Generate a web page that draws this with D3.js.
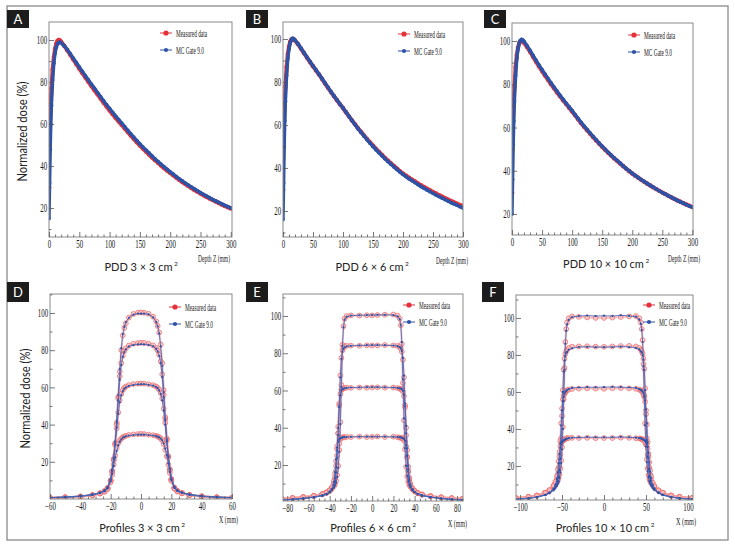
<!DOCTYPE html>
<html><head><meta charset="utf-8">
<script src="https://cdn.jsdelivr.net/npm/d3@7"></script>
<style>body{margin:0;background:#fff}svg{display:block}</style>
</head><body>
<script>
// ---------------- DATA ----------------
const depth = [0,1,2,3,4,6,8,10,12,14,16,18,20,25,30,35,40,45,50,55,60,65,70,75,80,85,90,95,100,105,110,115,120,125,130,135,140,145,150,155,160,165,170,175,180,185,190,195,200,205,210,215,220,225,230,235,240,245,250,255,260,265,270,275,280,285,290,295,300];

const pddA_meas = [44,54,63,71,77,86,92,95.8,98.3,99.6,100,99.8,
99.2,97.3,95.2,93.0,90.8,88.6,86.4,84.3,82.2,80.1,78.1,76.1,74.2,72.2,70.2,68.3,66.5,
64.7,62.9,61.2,59.6,57.9,56.2,54.5,52.9,51.3,49.8,48.3,46.9,45.5,44.1,42.8,41.5,40.2,39.0,37.8,36.7,
35.6,34.5,33.4,32.4,31.4,30.5,29.5,28.6,27.8,26.9,26.1,25.3,24.5,23.8,23.1,22.4,21.7,21.0,20.4,19.8];
const pddA_mc = [15,32,48,60,69,81,89,93.8,96.6,98.1,98.8,99.0,
98.7,97.3,95.5,93.5,91.4,89.3,87.2,85.1,83.0,81.0,79.0,77.0,75.0,73.1,71.1,69.2,67.4,
65.6,63.8,62.1,60.4,58.7,57.0,55.3,53.7,52.1,50.5,49.0,47.6,46.2,44.8,43.4,42.1,40.8,39.6,38.4,37.2,
36.1,35.0,33.9,32.9,31.9,30.9,30.0,29.1,28.2,27.3,26.5,25.7,24.9,24.1,23.4,22.7,22.0,21.3,20.7,20.0];
const pddB_meas = [45,55,64,72,78,87,93,96.5,98.7,99.8,100,99.7,
99.3,97.6,95.5,93.4,91.3,89.3,87.3,85.4,83.5,81.4,79.3,77.3,75.3,73.4,71.5,69.6,67.9,
65.9,64.0,62.1,60.3,58.5,56.8,55.1,53.5,51.9,50.4,48.9,47.5,46.1,44.7,43.4,42.1,40.9,39.7,38.5,37.4,
36.4,35.5,34.6,33.7,32.8,32.0,31.2,30.4,29.6,28.8,28.1,27.4,26.7,26.0,25.3,24.7,24.0,23.4,22.8,22.2];
const pddB_mc = [16,33,50,62,71,83,91,95.5,98.2,99.6,100.3,100.1,
99.5,97.8,95.7,93.6,91.5,89.5,87.5,85.6,83.6,81.6,79.5,77.5,75.5,73.5,71.6,69.7,67.9,
66.0,64.0,62.1,60.2,58.3,56.6,54.9,53.2,51.6,50.0,48.5,47.1,45.7,44.3,43.0,41.7,40.5,39.3,38.1,37.0,
36.0,35.0,34.1,33.2,32.3,31.4,30.6,29.8,29.0,28.2,27.4,26.7,26.0,25.3,24.6,23.9,23.3,22.7,22.0,21.4];
const pddC_meas = [48,57,66,73,79,88,93.5,97,99,99.9,100,99.7,
99.2,97.2,95.0,92.7,90.4,88.2,86.1,84.0,82.0,80.0,78.1,76.2,74.4,72.6,70.8,69.1,67.4,
65.6,63.8,62.0,60.3,58.7,57.1,55.5,54.0,52.5,51.1,49.7,48.3,47.0,45.7,44.5,43.3,42.1,40.9,39.8,38.7,
37.7,36.8,35.8,34.9,34.0,33.2,32.3,31.5,30.7,29.9,29.2,28.4,27.7,27.0,26.3,25.7,25.0,24.4,23.8,23.2];
const pddC_mc = [20,36,52,63,72,84,92,96.5,99,100.3,100.7,100.4,
99.8,97.8,95.6,93.3,91.0,88.8,86.7,84.6,82.6,80.6,78.6,76.7,74.8,73.0,71.2,69.5,67.8,
65.9,64.1,62.3,60.6,59.0,57.4,55.8,54.3,52.8,51.3,49.9,48.5,47.2,45.9,44.7,43.5,42.2,41.0,39.9,38.8,
37.8,36.8,35.9,35.0,34.1,33.2,32.4,31.5,30.7,29.9,29.2,28.4,27.7,27.0,26.3,25.6,25.0,24.3,23.7,23.1];

const profD_x = [-60,-50,-40,-32,-27,-24,-22,-20,-19,-18,-17,-16,-15,-14,-13,-12,-11,-10,-8,-5,-2,0,2,5,8,10,11,12,13,14,15,16,17,18,19,20,22,24,27,32,40,50,60];
const D_mc100 = [0.8,1.1,1.6,2.4,3.4,4.6,6.4,10.8,15.8,22.3,31,42,56,70,81,88.5,92.5,95,97.4,99.1,99.7,99.6,99.7,99.2,97.6,95.2,92.8,89,82,71.5,57.5,43,32,23,16.5,11.3,6.6,4.7,3.5,2.5,1.6,1.1,0.8];
const D_meas100 = [0.6,0.9,1.3,2.1,3.1,4.2,6.0,10,15,21.5,30,41,55,68.5,80,88,92,94.5,97.5,99.5,100.2,100.3,100.1,99.6,98,95.5,93,89.5,83,73,58.5,44,32.5,23,16,10.8,6.1,4.3,3.2,2.2,1.4,0.9,0.6];
const D_mc83 = [0.7,1.0,1.5,2.3,3.3,4.5,6.2,10.3,15.3,21.8,30.5,41,53,64,72,76.5,79,80.5,82,82.8,83.1,83.2,83.1,82.8,82.1,80.8,79.4,77,73,65.5,54.5,42.5,31.5,22.5,16,10.8,6.4,4.6,3.4,2.4,1.5,1.0,0.7];
const D_meas83 = [0.6,0.9,1.3,2.1,3.1,4.2,5.9,10,15,21,29.5,40,54,66,73,77,79.5,81,82.5,83.5,83.8,84,83.9,83.5,82.6,81.2,79.8,77.5,74,67,56,43,32,22.5,15.6,10.4,6.0,4.3,3.2,2.2,1.4,0.9,0.6];
const D_mc61 = [0.7,1.0,1.5,2.3,3.3,4.3,6.0,10.2,14.8,21.2,29.3,38.3,46,52,55.8,58,59.3,60,60.8,61.3,61.6,61.7,61.7,61.4,60.9,60.2,59.6,58.4,56.5,53,47.5,40,31,22.5,15.8,10.6,6.2,4.4,3.3,2.3,1.5,1.0,0.7];
const D_meas61 = [0.6,0.9,1.3,2.1,3.0,4.1,5.7,9.8,14.5,21,29,38,46.5,53,56.5,58.5,59.8,60.5,61.2,61.8,62,62.1,62,61.7,61.2,60.5,59.8,58.8,57,54,48.5,41,31.5,22.5,15.5,10.2,5.9,4.2,3.1,2.2,1.4,0.9,0.6];
const D_mc35 = [0.6,0.9,1.4,2.2,3.1,4.1,5.6,9.4,13.3,17.8,22.3,25.8,28.8,30.8,32.1,33,33.4,33.7,34.1,34.4,34.6,34.6,34.6,34.4,34.1,33.8,33.5,33.1,32.5,31.5,29.8,27,23.5,19,14.5,10.2,5.9,4.2,3.2,2.2,1.4,0.9,0.6];
const D_meas35 = [0.5,0.8,1.2,2.0,2.9,3.9,5.3,9.0,13,18.5,23.5,27.5,30,31.5,32.5,33.2,33.6,34,34.4,34.7,34.9,35,34.9,34.6,34.3,34,33.6,33.2,32.6,31.5,29.5,26.5,23,18.5,14,9.8,5.6,4.0,3.0,2.1,1.3,0.8,0.5];

const profE_x = [-85,-75,-65,-55,-47,-43,-40,-38,-36,-35,-34,-33,-32,-31,-30,-29,-28,-27,-26,-24,-20,-12,-5,0,5,12,20,24,26,27,28,29,30,31,32,33,34,35,36,38,40,43,47,55,65,75,85];
const E_mc100 = [1.2,1.5,2.0,2.6,3.5,4.2,5.3,6.4,7.8,9,10.5,13.5,18.5,27,42,62,84,94,98,99.6,100.2,100.4,100.5,100.5,100.6,100.6,100.5,99.8,98.3,95,86,66,45,29,19.5,14,11,9.2,8,6.5,5.4,4.3,3.6,2.7,2.0,1.5,1.2];
const E_meas100 = [1.8,2.2,2.7,3.3,4.2,5.0,6.0,7.2,8.6,9.8,11.5,14.5,19.5,28,43,63,84.5,94.5,98.5,100,100.3,100.2,100.4,100.3,100.5,100.7,100.8,100.2,98.5,95,85,64,44,28.5,19,13.8,11,9.4,8.3,6.9,5.9,4.8,4.1,3.2,2.6,2.1,1.7];
const E_mc84 = [1.2,1.5,2.0,2.7,3.6,4.4,5.4,6.8,9,11.5,16,24,36,52,67,77,81,82.5,83.2,83.7,84,84.2,84.3,84.3,84.4,84.3,84.1,83.8,83.3,82.6,81.2,77.5,68,53,37,24.5,16.5,11.8,9.2,6.9,5.5,4.4,3.6,2.7,2.0,1.5,1.2];
const E_meas84 = [1.8,2.2,2.7,3.4,4.3,5.2,6.2,7.6,9.8,12.5,17,25,37,53,68,77.5,81.5,83,83.7,84,84.1,84,84.2,84.1,84.2,84.4,84.2,83.9,83.4,82.5,80.8,76.5,67,52,36,24,16.2,11.6,9.1,7.1,5.9,4.9,4.1,3.2,2.6,2.1,1.7];
const E_mc61 = [1.2,1.5,2.0,2.7,3.6,4.4,5.6,7,9.5,13,19,28,40,51,57.5,60,60.7,61,61.2,61.4,61.6,61.7,61.8,61.8,61.8,61.7,61.6,61.4,61.2,61,60.6,59.8,57.6,51.5,41,29,19.5,13.2,9.6,7.0,5.6,4.4,3.6,2.7,2.0,1.5,1.2];
const E_meas61 = [1.8,2.2,2.7,3.4,4.3,5.2,6.4,7.8,10.2,13.5,19.5,28.5,40.5,52,58,60.2,60.8,61.1,61.3,61.5,61.4,61.6,61.5,61.6,61.7,61.5,61.6,61.3,61,60.8,60.3,59.5,57,51,40,28,19,13.2,10,7.5,6.1,4.9,4.1,3.2,2.6,2.1,1.7];
const E_mc35 = [1.3,1.6,2.1,2.8,3.7,4.5,5.7,7.2,11,16,23,29.5,32.5,33.8,34.3,34.6,34.8,34.9,35,35,35.1,35.2,35.2,35.2,35.2,35.2,35.1,35,34.9,34.8,34.6,34.3,33.9,33,30.5,25,17.5,12,8.6,6.6,5.5,4.5,3.7,2.8,2.1,1.6,1.3];
const E_meas35 = [1.9,2.3,2.8,3.5,4.4,5.3,6.5,8,11.5,15.5,22,30,37,31.5,34,34.5,34.7,35,34.8,35.1,35,35.2,35,35.1,35.3,35,35.2,34.9,34.7,34.6,34.4,34,33.5,32.5,30,24.5,17,12,9,7.2,6.1,5.0,4.2,3.3,2.7,2.2,1.8];

const profF_x = [-105,-90,-80,-70,-65,-60,-58,-56,-55,-54,-53,-52,-51,-50,-49,-48,-47,-46,-45,-44,-42,-38,-30,-20,-10,0,10,20,30,38,42,44,45,46,47,48,49,50,51,52,53,54,55,56,58,60,65,70,80,90,105];
const F_mc100 = [2.0,2.5,3.1,4.2,5.2,6.8,7.8,9.2,10.2,11.5,13.5,16.5,21.5,29,40,55,72,86,93,96.5,99,100.5,101,101.3,101,101.2,101,101.4,101.1,100.7,99.2,96.8,93.5,87,74,57,42,30.5,22,17,13.8,11.8,10.4,9.4,7.9,6.9,5.3,4.2,3.1,2.5,2.0];
const F_meas100 = [2.6,3.2,3.9,5.3,6.5,8.5,9.5,11,12,13.5,15.5,18.5,23,30,41,56,73,87,94,97.5,99.8,100.8,100.6,100.3,100,100,100.2,100.5,100.8,101,99.8,97.5,94,88,75,58,43,31.5,23.5,18.5,15,13,11.8,10.8,9.5,8.5,6.5,5.3,3.9,3.2,2.6];
const F_mc84 = [2.0,2.5,3.1,4.3,5.4,7.2,8.5,10.5,12,14.3,18,24,33,46,60,71,77,79.5,81,81.7,82.8,83.6,84.3,84.4,84.2,84.2,84.3,84.5,84.3,83.8,83,82,81.3,80,77.5,72,61,47,34,25,18.5,14.6,12.2,10.6,8.6,7.3,5.5,4.3,3.2,2.5,2.0];
const F_meas84 = [2.6,3.2,3.9,5.4,6.7,8.8,10.2,12.3,14,16.2,20,26,35,47,61,72,78,80.5,82,82.8,83.8,84.5,84.6,84.7,84.5,84.4,84.6,84.8,84.9,84.6,83.8,82.7,82,80.6,78,72.5,62,48,35,26,19.5,15.6,13.2,11.6,9.6,8.4,6.6,5.4,3.9,3.2,2.6];
const F_mc62 = [2.0,2.5,3.2,4.4,5.5,7.5,9,11.5,13.8,17.5,23.5,32,42,50,55,57.5,59,60,60.6,61,61.5,62.2,62.4,62.6,62.5,62.6,62.7,62.6,62.4,62.2,61.5,61.1,60.7,60.1,59.2,57.7,55.3,50.5,43,33,24.5,18,14,11.8,9.2,7.6,5.6,4.4,3.2,2.5,2.0];
const F_meas62 = [2.6,3.3,4.0,5.5,6.8,9.0,10.6,13,15.5,19,25,33.5,43,51,56,58,59,59.8,60.5,60.9,61.3,61.6,61.8,62,61.8,61.7,62,62.1,61.9,61.7,61.3,60.8,60.4,59.8,58.8,57.2,54.8,50,42.5,33,25,19,15.3,13,10.3,8.7,6.7,5.5,4.0,3.3,2.7];
const F_mc35 = [2.0,2.5,3.2,4.4,5.6,7.8,9.6,13,16.5,21.5,26.5,30,31.8,32.7,33.3,33.8,34.1,34.4,34.6,34.8,35,35.3,35.4,35.6,35.5,35.5,35.5,35.7,35.5,35.3,35.1,34.9,34.7,34.5,34.2,33.9,33.4,32.8,31.9,30.3,27,22,17,13.5,9.8,7.9,5.7,4.5,3.3,2.5,2.0];
const F_meas35 = [2.7,3.3,4.1,5.6,7.0,9.5,11.5,14.5,18,22.5,27.5,30.5,32.2,33,33.6,34,34.3,34.6,34.8,35,35.1,35.2,35.1,35.2,35,35.1,35.1,35.3,35.2,35,34.9,34.7,34.5,34.3,34,33.6,33,32.3,31.2,29.5,26.5,22,17.5,14.5,11,9.2,6.9,5.6,4.1,3.3,2.7];

const pddXTicks = [0,50,100,150,200,250,300];
const doseYTicks = [20,40,60,80,100];
const profDXTicks = [-60,-40,-20,0,20,40,60];
const profEXTicks = [-80,-60,-40,-20,0,20,40,60,80];
const profFXTicks = [-100,-50,0,50,100];
const pddTitles = ["PDD 3 \u00d7 3 cm","PDD 6 \u00d7 6 cm","PDD 10 \u00d7 10 cm"];
const profTitles = ["Profiles 3 \u00d7 3 cm","Profiles 6 \u00d7 6 cm","Profiles 10 \u00d7 10 cm"];
const unitSup = "2";
const panelLetters = ["A","B","C","D","E","F"];
const legendLabels = ["Measured data","MC Gate 9.0"];
const yAxisTitle = "Normalized dose (%)";
const pddXTitle = "Depth Z (mm)";
const profXTitle = "X (mm)";

// ---------------- DRAWING ----------------
const RED = "#e5323a", BLUE = "#2d52a6";
const svg = d3.select("body").append("svg").attr("width",735).attr("height",550);
svg.append("rect").attr("width",735).attr("height",550).attr("fill","#fff");
svg.append("rect").attr("x",7).attr("y",6).attr("width",721).attr("height",534)
  .attr("fill","none").attr("stroke","#8a8a8a").attr("stroke-width",1.3);

const panels = [
 {L:0,type:"pdd",x0:49,x1:232,y0:22,y1:237,xd:[0,302],yd:[6.2,108.6],xs:depth,meas:[pddA_meas],mc:[pddA_mc],xt:pddXTicks,xm:10,lab:[7,10,18],leg:[160,33],title:pddTitles[0],tx:141,ty:271,ax:[198,262,32]},
 {L:1,type:"pdd",x0:283,x1:463,y0:22,y1:237,xd:[0,300],yd:[7.9,107.9],xs:depth,meas:[pddB_meas],mc:[pddB_mc],xt:pddXTicks,xm:10,lab:[246,10,18],leg:[398,34],title:pddTitles[1],tx:372,ty:271,ax:[436,264,32]},
 {L:2,type:"pdd",x0:512,x1:693,y0:23,y1:235,xd:[0,301],yd:[10.3,108.3],xs:depth,meas:[pddC_meas],mc:[pddC_mc],xt:pddXTicks,xm:10,lab:[484,10,18],leg:[628,35],title:pddTitles[2],tx:606,ty:268,ax:[668,262,32]},
 {L:3,type:"prof",x0:50,x1:232,y0:294,y1:499,xd:[-60,60],yd:[0,110.2],xs:profD_x,meas:[D_meas100,D_meas83,D_meas61,D_meas35],mc:[D_mc100,D_mc83,D_mc61,D_mc35],xt:profDXTicks,xm:5,lab:[7,282,20],leg:[169,307],title:profTitles[0],tx:142,ty:532,ax:[219,523,19]},
 {L:4,type:"prof",x0:283,x1:463,y0:294,y1:501,xd:[-84,85.6],yd:[0.67,111.8],xs:profE_x,meas:[E_meas100,E_meas84,E_meas61,E_meas35],mc:[E_mc100,E_mc84,E_mc61,E_mc35],xt:profEXTicks,xm:5,lab:[246,282,20],leg:[403,305],title:profTitles[1],tx:373,ty:532,ax:[448,527,19]},
 {L:5,type:"prof",x0:516,x1:693,y0:295,y1:500,xd:[-104.8,106],yd:[1.6,112.4],xs:profF_x,meas:[F_meas100,F_meas84,F_meas62,F_meas35],mc:[F_mc100,F_mc84,F_mc62,F_mc35],xt:profFXTicks,xm:10,lab:[482,282,20],leg:[643,305],title:profTitles[2],tx:605,ty:532,ax:[676,525,20]}
];

const SERIF = "'Liberation Serif','DejaVu Serif',serif";
const SANS = "Lato,'Open Sans','Noto Sans',sans-serif";

panels.forEach(p => {
  const g = svg.append("g");
  const x = d3.scaleLinear().domain(p.xd).range([p.x0,p.x1]);
  const y = d3.scaleLinear().domain(p.yd).range([p.y1,p.y0]);
  const cid = "clip"+p.L;
  svg.append("clipPath").attr("id",cid).append("rect")
    .attr("x",p.x0).attr("y",p.y0).attr("width",p.x1-p.x0).attr("height",p.y1-p.y0);

  const data = g.append("g").attr("clip-path",`url(#${cid})`);
  const xs = p.xs;
  const line = d3.line().x((d,i)=>x(xs[i])).y(d=>y(d));
  if (p.type==="pdd") {
    p.meas.forEach(arr=>{
      data.append("path").attr("d",line(arr)).attr("fill","none").attr("stroke",RED).attr("stroke-width",4);
      data.selectAll(null).data(arr).join("circle").attr("cx",(d,i)=>x(xs[i])).attr("cy",d=>y(d)).attr("r",2.2).attr("fill",RED);
    });
    p.mc.forEach(arr=>{
      data.append("path").attr("d",line(arr)).attr("fill","none").attr("stroke",BLUE).attr("stroke-width",3.4);
      data.selectAll(null).data(arr).join("circle").attr("cx",(d,i)=>x(xs[i])).attr("cy",d=>y(d)).attr("r",1.9).attr("fill",BLUE);
    });
  } else {
    p.meas.forEach(arr=>{
      data.append("path").attr("d",line(arr)).attr("fill","none").attr("stroke","#f4a0a0").attr("stroke-width",2.2).attr("stroke-opacity",0.6);
      data.selectAll(null).data(arr).join("circle").attr("cx",(d,i)=>x(xs[i])).attr("cy",d=>y(d)).attr("r",2.4)
        .attr("fill","#f9c4c4").attr("fill-opacity",0.55).attr("stroke","#ee6a6a").attr("stroke-width",0.8);
    });
    p.mc.forEach(arr=>{
      data.append("path").attr("d",line(arr)).attr("fill","none").attr("stroke","#4666b8").attr("stroke-width",1)
        .attr("stroke-opacity",0.85);
      data.selectAll(null).data(arr).join("circle").attr("cx",(d,i)=>x(xs[i])).attr("cy",d=>y(d)).attr("r",1.1).attr("fill",BLUE);
    });
  }

  // frame
  g.append("rect").attr("x",p.x0).attr("y",p.y0).attr("width",p.x1-p.x0).attr("height",p.y1-p.y0)
    .attr("fill","none").attr("stroke","#8a8a8a").attr("stroke-width",1);

  // axes
  const styleAxis = (ax)=>{
    ax.select(".domain").remove();
    ax.selectAll("line").attr("stroke","#555").attr("stroke-width",0.8);
    ax.attr("font-family",SERIF).attr("font-size",11.5);
    ax.selectAll("text").attr("fill","#1a1a1a").attr("transform","scale(0.6,1)");
  };
  const xMinor = d3.range(Math.ceil(p.xd[0]/p.xm)*p.xm, p.xd[1]+0.001, p.xm).filter(v=>!p.xt.includes(v));
  const yMinor = d3.range(10, p.yd[1], 10).filter(v=>!doseYTicks.includes(v) && v>=p.yd[0]);
  const bx = g.append("g").attr("transform",`translate(0,${p.y1})`)
    .call(d3.axisBottom(x).tickValues(p.xt).tickSize(-5).tickPadding(3).tickFormat(d3.format("d")));
  styleAxis(bx);
  const bxm = g.append("g").attr("transform",`translate(0,${p.y1})`)
    .call(d3.axisBottom(x).tickValues(xMinor).tickSize(-2.5).tickFormat(""));
  styleAxis(bxm);
  const ly = g.append("g").attr("transform",`translate(${p.x0},0)`)
    .call(d3.axisLeft(y).tickValues(doseYTicks).tickSize(-5).tickPadding(3).tickFormat(d3.format("d")));
  styleAxis(ly);
  const lym = g.append("g").attr("transform",`translate(${p.x0},0)`)
    .call(d3.axisLeft(y).tickValues(yMinor).tickSize(-2.5).tickFormat(""));
  styleAxis(lym);

  // x axis title (small serif)
  g.append("text").attr("x",p.ax[0]).attr("y",p.ax[1]).attr("font-family",SERIF).attr("font-size",10)
    .attr("fill","#222").attr("textLength",p.ax[2]).attr("lengthAdjust","spacingAndGlyphs")
    .text(p.type==="pdd"?pddXTitle:profXTitle);

  // legend
  const lg = g.append("g").attr("transform",`translate(${p.leg[0]},${p.leg[1]})`);
  [[RED,0],[BLUE,17]].forEach(([c,dy],i)=>{
    lg.append("line").attr("x1",0).attr("x2",12).attr("y1",dy).attr("y2",dy).attr("stroke",c).attr("stroke-width",1);
    lg.append("circle").attr("cx",6).attr("cy",dy).attr("r",i===0?2.6:2.1).attr("fill",c);
    lg.append("text").attr("x",16).attr("y",dy+3.5).attr("font-family",SERIF).attr("font-size",11)
      .attr("fill","#222").attr("textLength",i===0?31:28).attr("lengthAdjust","spacingAndGlyphs").text(legendLabels[i]);
  });

  // bottom title, with separate superscript placed after measured width
  const tt = g.append("text").attr("x",0).attr("y",p.ty)
    .attr("font-family",SANS).attr("font-size",11).attr("fill","#222").text(p.title);
  const len = tt.node().getComputedTextLength();
  const left = p.tx - (len+5)/2;
  tt.attr("x",left);
  g.append("text").attr("x",left+len+1.5).attr("y",p.ty-5)
    .attr("font-family",SANS).attr("font-size",6.5).attr("fill","#222").text(unitSup);

  // panel letter
  const lb = svg.append("g").attr("transform",`translate(${p.lab[0]},${p.lab[1]})`);
  lb.append("rect").attr("width",22).attr("height",p.lab[2]).attr("fill","#1c1c1c");
  lb.append("text").attr("x",11).attr("y",p.lab[2]/2+4.5).attr("text-anchor","middle")
    .attr("font-family",SANS).attr("font-size",13).attr("fill","#fff").text(panelLetters[p.L]);

  // y title
  if (p.L===0 || p.L===3) {
    const cy = (p.y0+p.y1)/2 + 2;
    g.append("text").attr("transform",`translate(${p.L===0?27:30},${cy}) rotate(-90)`).attr("text-anchor","middle")
      .attr("font-family",SANS).attr("font-size",13).attr("fill","#222")
      .attr("textLength",100).attr("lengthAdjust","spacingAndGlyphs").text(yAxisTitle);
  }
});
</script>
</body></html>
